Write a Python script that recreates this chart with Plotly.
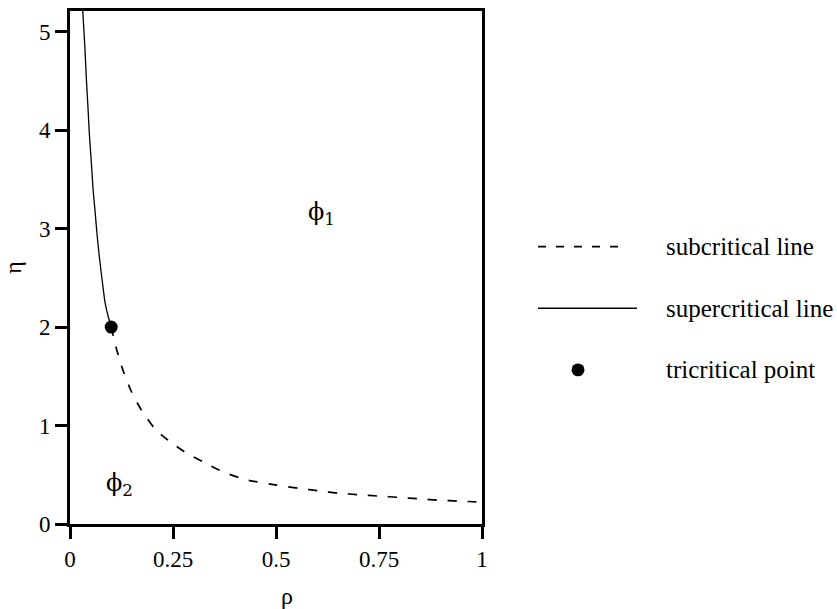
import plotly.graph_objects as go

# Supercritical line (solid)
super_rho = [0.031, 0.036, 0.040, 0.044, 0.047, 0.052, 0.056, 0.061, 0.065, 0.070, 0.075, 0.080, 0.085, 0.092, 0.100]
super_eta = [5.21, 4.85, 4.50, 4.20, 3.96, 3.66, 3.40, 3.17, 2.97, 2.76, 2.58, 2.41, 2.25, 2.12, 2.00]

# Subcritical line (dashed)
sub_rho = [0.100, 0.113, 0.129, 0.150, 0.174, 0.206, 0.239, 0.279, 0.324, 0.372,
           0.425, 0.502, 0.558, 0.603, 0.654, 0.701, 0.750, 0.799, 0.848, 0.896,
           0.945, 1.000]
sub_eta = [2.00, 1.775, 1.556, 1.336, 1.152, 0.967, 0.848, 0.730, 0.629, 0.528,
           0.452, 0.394, 0.361, 0.337, 0.312, 0.298, 0.283, 0.270, 0.255, 0.242,
           0.232, 0.222]

# Tricritical point
tri_rho = [0.1]
tri_eta = [2.0]

x_ticks = [0, 0.25, 0.5, 0.75, 1]
x_tick_labels = ["0", "0.25", "0.5", "0.75", "1"]
y_ticks = [0, 1, 2, 3, 4, 5]
y_tick_labels = ["0", "1", "2", "3", "4", "5"]

legend_labels = ["subcritical line", "supercritical line", "tricritical point"]

FONT = "Liberation Serif, Times New Roman, serif"
PHI_FONT = "DejaVu Serif, serif"

fig = go.Figure()
fig.add_trace(go.Scatter(x=super_rho, y=super_eta, mode="lines",
                         line=dict(color="black", width=1.3, shape="spline", smoothing=0.6),
                         showlegend=False))
fig.add_trace(go.Scatter(x=sub_rho, y=sub_eta, mode="lines",
                         line=dict(color="black", width=1.7, dash="9px,11px", shape="spline", smoothing=0.6),
                         showlegend=False))
fig.add_trace(go.Scatter(x=tri_rho, y=tri_eta, mode="markers",
                         marker=dict(color="black", size=13), showlegend=False))

# plot area pixel geometry
L, R, T, B = 70, 482, 8, 524
W, H = R - L, B - T

def px(x):
    return (x - L) / W

def py(y):
    return (B - y) / H

shapes = [
    dict(type="line", xref="paper", yref="paper", x0=px(538), x1=px(628), y0=py(245), y1=py(245),
         line=dict(color="black", width=1.7, dash="8px,10px")),
    dict(type="line", xref="paper", yref="paper", x0=px(538), x1=px(637), y0=py(307), y1=py(307),
         line=dict(color="black", width=1.3)),
    dict(type="circle", xref="paper", yref="paper", x0=px(571.5), x1=px(584.5), y0=py(362.5), y1=py(375.5),
         fillcolor="black", line=dict(color="black", width=0)),
]

annotations = []
for lab, yy in zip(legend_labels, [245, 307, 369]):
    annotations.append(dict(xref="paper", yref="paper", x=px(664), y=py(yy), text=lab,
                            showarrow=False, xanchor="left", yanchor="middle",
                            font=dict(family=FONT, size=25, color="black")))
annotations.append(dict(x=0.61, y=3.15, text="ϕ<sub>1</sub>", showarrow=False,
                        font=dict(family=PHI_FONT, size=24, color="black")))
annotations.append(dict(x=0.12, y=0.40, text="ϕ<sub>2</sub>", showarrow=False,
                        font=dict(family=PHI_FONT, size=24, color="black")))
# x axis title placed where the reference shows it
annotations.append(dict(xref="paper", yref="paper", x=px(287), y=py(596), text="ρ",
                        showarrow=False, xanchor="center", yanchor="middle",
                        font=dict(family=FONT, size=24, color="black")))

fig.update_layout(
    width=837, height=609,
    margin=dict(l=L, r=837 - R, t=T, b=609 - B),
    paper_bgcolor="white", plot_bgcolor="white",
    shapes=shapes, annotations=annotations,
    font=dict(family=FONT, color="black"),
    xaxis=dict(range=[0, 1], tickvals=x_ticks, ticktext=x_tick_labels,
               showgrid=False, zeroline=False, showline=True, linecolor="black",
               linewidth=3, mirror=True, ticks="outside", ticklen=12, tickwidth=3,
               tickcolor="black", tickfont=dict(family=FONT, size=23)),
    yaxis=dict(range=[0, 5.21], tickvals=y_ticks, ticktext=y_tick_labels,
               showgrid=False, zeroline=False, showline=True, linecolor="black",
               linewidth=3, mirror=True, ticks="outside", ticklen=12, tickwidth=3,
               tickcolor="black", tickfont=dict(family=FONT, size=23),
               title=dict(text="η", font=dict(family=FONT, size=24), standoff=14)),
)

fig.write_html("out.html")
